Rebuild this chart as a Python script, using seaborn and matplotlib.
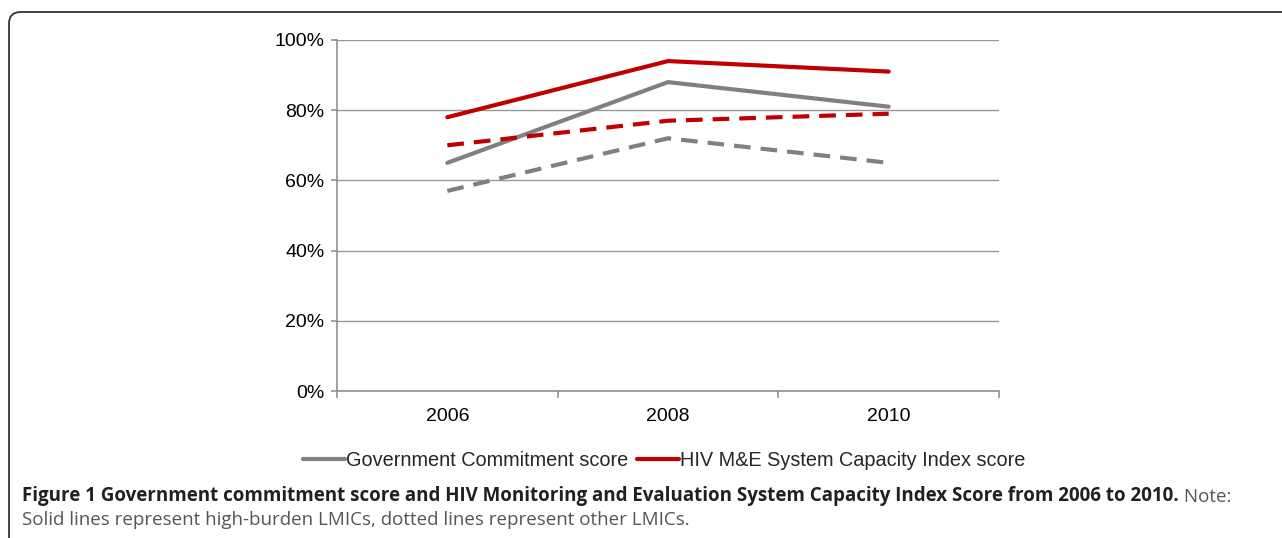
import matplotlib
matplotlib.use("Agg")
from matplotlib import pyplot as plt
from matplotlib.patches import FancyBboxPatch
from matplotlib.lines import Line2D
from matplotlib.ticker import FixedLocator, PercentFormatter
import seaborn as sns
import pandas as pd

# data
years = ["2006", "2008", "2010"]
gov_high = [65, 88, 81]      # Government Commitment score, high-burden LMICs
gov_other = [57, 72, 65]     # Government Commitment score, other LMICs
hiv_high = [78, 94, 91]      # HIV M&E System Capacity Index score, high-burden
hiv_other = [70, 77, 79]     # HIV M&E System Capacity Index score, other
measures = ["Government Commitment score", "HIV M&E System Capacity Index score"]
groups = ["High-burden LMICs", "Other LMICs"]

rows = []
for measure, series in zip(measures, [(gov_high, gov_other), (hiv_high, hiv_other)]):
    for group, vals in zip(groups, series):
        for yr, v in zip(years, vals):
            rows.append({"year": yr, "value": v, "measure": measure, "group": group})
df = pd.DataFrame(rows)

sns.set_theme(style="white")
plt.rcParams["font.family"] = ["Liberation Sans", "DejaVu Sans"]

GRAY = "#808080"
RED = "#C00000"
AXC = "#878787"
FS = 14

fig = plt.figure(figsize=(12.82, 5.38), dpi=100)
W, H = 1282, 538
ax = fig.add_axes([337 / W, 1 - 391 / H, (999 - 337) / W, (391 - 40) / H])

sns.lineplot(data=df, x="year", y="value", hue="measure", style="group",
             palette={measures[0]: GRAY, measures[1]: RED},
             dashes={groups[0]: "", groups[1]: (4, 2.4)},
             linewidth=3, legend=False, ax=ax, sort=False)
for ln in ax.lines:
    ln.set_solid_capstyle("round")
    ln.set_dash_capstyle("butt")

ax.set_xlim(-0.5, 2.5)
ax.set_ylim(0, 100)
ax.set_yticks([0, 20, 40, 60, 80, 100])
ax.yaxis.set_major_formatter(PercentFormatter(decimals=0))
ax.xaxis.set_minor_locator(FixedLocator([-0.5, 0.5, 1.5, 2.5]))
ax.tick_params(axis="x", which="major", length=0, pad=12, labelsize=FS, colors="black")
ax.tick_params(axis="x", which="minor", length=5, width=1.1, color=AXC, bottom=True)
ax.tick_params(axis="y", which="major", length=4, width=1.1, color=AXC, pad=5,
               labelsize=FS, labelcolor="black", left=True)
ax.set_xlabel("")
ax.set_ylabel("")
ax.yaxis.grid(True, color="#999999", linewidth=1)
ax.set_axisbelow(True)
for side in ["top", "right"]:
    ax.spines[side].set_visible(False)
for side in ["left", "bottom"]:
    ax.spines[side].set_color(AXC)
    ax.spines[side].set_linewidth(1.1)

handles = [Line2D([], [], color=GRAY, lw=3), Line2D([], [], color=RED, lw=3)]
fig.legend(handles, measures, loc="center", bbox_to_anchor=(664 / W, 1 - 460 / H),
           ncol=2, frameon=False, fontsize=14.3, handlelength=2.1,
           handletextpad=0.05, columnspacing=0.45, borderpad=0)

# rounded frame of the figure panel (only top and left edges visible)
frame = FancyBboxPatch((9 / W, -0.3), 1.5, 0.3 + (1 - 12 / H),
                       boxstyle="round,pad=0,rounding_size=0.009",
                       transform=fig.transFigure, fill=False,
                       edgecolor="#333333", linewidth=1.3, mutation_aspect=W / H)
fig.patches.append(frame)

cap_font = ["Open Sans", "DejaVu Sans"]
CFS = 13.5
t1 = fig.text(22 / W, 1 - 501 / H,
              "Figure 1 Government commitment score and HIV Monitoring and Evaluation "
              "System Capacity Index Score from 2006 to 2010.",
              family=cap_font, fontsize=CFS, fontweight="bold", color="#231F20",
              ha="left", va="baseline")
ax.annotate(" Note:", xy=(1, 0), xycoords=t1, ha="left", va="bottom",
            family=cap_font, fontsize=CFS, color="#555555", annotation_clip=False)
fig.text(22 / W, 1 - 525 / H,
         "Solid lines represent high-burden LMICs, dotted lines represent other LMICs.",
         family=cap_font, fontsize=CFS, color="#555555", ha="left", va="baseline")

fig.savefig("out.png", dpi=100)
